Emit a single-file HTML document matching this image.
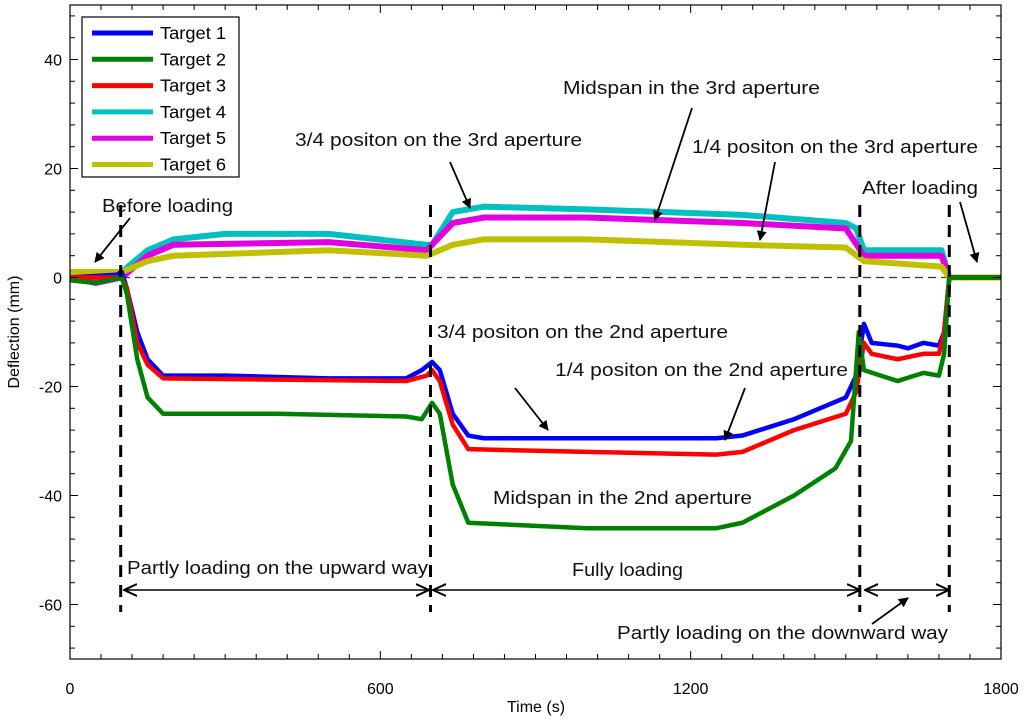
<!DOCTYPE html>
<html><head><meta charset="utf-8"><style>
body{margin:0;background:#fff}
svg text{font-family:"Liberation Sans",sans-serif}
</style></head><body>
<svg id="chart" width="1024" height="718" viewBox="0 0 1024 718" xmlns="http://www.w3.org/2000/svg">
<g id="series"></g>
<g id="axes"></g>
<g id="ann" font-size="18" fill="#111"></g>
</svg>
<script>
const xTicks=[0,600,1200,1800];
const yTicks=[40,20,0,-20,-40,-60];
const seriesNames=["Target 1","Target 2","Target 3","Target 4","Target 5","Target 6"];
const seriesColors=["#0000ff","#008000","#ff0000","#00c0c0","#e000e0","#c0c000"];
const t1=[[0,0],[90,0.5],[100,1],[110,-2],[130,-10],[150,-15],[180,-18],[300,-18],[500,-18.5],[650,-18.5],[680,-17],[700,-15.5],[715,-17],[740,-25],[770,-29],[800,-29.5],[1000,-29.5],[1250,-29.5],[1300,-29],[1400,-26],[1500,-22],[1520,-18],[1535,-8.5],[1550,-12],[1600,-12.5],[1620,-13],[1650,-12],[1680,-12.5],[1690,-10],[1700,0],[1740,0],[1800,0]];
const t2=[[0,-0.5],[50,-1],[100,0],[110,-3],[130,-15],[150,-22],[180,-25],[400,-25],[650,-25.5],[680,-26],[700,-23],[715,-25],[740,-38],[770,-45],[1000,-46],[1250,-46],[1300,-45],[1400,-40],[1480,-35],[1510,-30],[1525,-10],[1535,-17],[1600,-19],[1650,-17.5],[1680,-18],[1690,-14],[1700,0],[1800,0]];
const t3=[[0,0],[100,0],[110,-2],[130,-12],[150,-16],[180,-18.5],[650,-19],[690,-18],[700,-17],[715,-19],[740,-27],[770,-31.5],[1000,-32],[1250,-32.5],[1300,-32],[1400,-28],[1500,-25],[1520,-21],[1535,-12],[1550,-14],[1600,-15],[1650,-14],[1680,-14],[1690,-10],[1700,0],[1800,0]];
const t4=[[0,0],[100,1],[150,5],[200,7],[300,8],[500,8],[690,6],[700,6],[740,12],[800,13],[1000,12.5],[1300,11.5],[1500,10],[1520,9],[1535,5],[1600,5],[1685,5],[1700,0],[1800,0]];
const t5=[[0,0],[50,-1],[100,0],[150,4],[200,6],[500,6.5],[690,5],[740,10],[800,11],[1000,11],[1300,10],[1500,9],[1535,4],[1685,4],[1700,0],[1800,0]];
const t6=[[0,1],[100,1],[150,3],[200,4],[500,5],[690,4],[740,6],[800,7],[1000,7],[1300,6],[1500,5.5],[1535,3],[1685,2],[1700,0],[1800,0]];
const allSeries=[t1,t2,t3,t4,t5,t6];
const X0=70,X1=1001,Y0=5,Y1=659,xmin=0,xmax=1800,ymin=-70,ymax=50;
const sx=v=>X0+(v-xmin)/(xmax-xmin)*(X1-X0);
const sy=v=>Y1-(v-ymin)/(ymax-ymin)*(Y1-Y0);
const NS="http://www.w3.org/2000/svg";
function mk(tag,attrs,parent){const e=document.createElementNS(NS,tag);for(const k in attrs)e.setAttribute(k,attrs[k]);parent.appendChild(e);return e;}
const S=document.getElementById('series'),A=document.getElementById('axes'),N=document.getElementById('ann');
let z=mk('line',{x1:X0,x2:X1,y1:sy(0),y2:sy(0),stroke:'#333','stroke-width':1.2,'stroke-dasharray':'8,5'},S);


const order=[3,4,5,0,2,1];
order.forEach(i=>{
 const p=mk('polyline',{points:allSeries[i].map(d=>sx(d[0])+','+sy(d[1])).join(' '),fill:'none',stroke:seriesColors[i],'stroke-width':i>=3?6:4.5,'stroke-linejoin':'round'},S);
 
 
});
const phaseTimes=[98,697,1527,1700];
phaseTimes.forEach((t,i)=>{
 const l=mk('line',{x1:sx(t),x2:sx(t),y1:205,y2:612,stroke:'#000','stroke-width':3,'stroke-dasharray':'12,8'},S);
 
 
});
let fr=mk('rect',{x:X0,y:Y0,width:X1-X0,height:Y1-Y0,fill:'none',stroke:'#000','stroke-width':1.2},A);


for(let t=0;t<=1800;t+=60){const x=sx(t),len=t%600===0?8:5;mk('line',{x1:x,x2:x,y1:Y1,y2:Y1-len,stroke:'#000'},A);mk('line',{x1:x,x2:x,y1:Y0,y2:Y0+len,stroke:'#000'},A);}
for(let v=-68;v<=48;v+=4){const y=sy(v),len=v%20===0?8:5;mk('line',{x1:X0,x2:X0+len,y1:y,y2:y,stroke:'#000'},A);mk('line',{x1:X1,x2:X1-len,y1:y,y2:y,stroke:'#000'},A);}
xTicks.forEach(t=>{const e=mk('text',{x:sx(t),y:694,'text-anchor':'middle','font-size':16},A);e.textContent=t;
 
 });
yTicks.forEach(v=>{const e=mk('text',{x:62,y:sy(v)+6,'text-anchor':'end','font-size':16},A);e.textContent=v;
 
 });
let xt=mk('text',{x:536,y:712,'text-anchor':'middle','font-size':16},A);xt.textContent='Time (s)';


let yt=mk('text',{x:0,y:0,'text-anchor':'middle','font-size':16,transform:'translate(19,332) rotate(-90)'},A);yt.textContent='Deflection (mm)';


let lg=mk('rect',{x:82,y:17,width:157,height:160,fill:'#fff',stroke:'#000','stroke-width':1.2},A);


seriesNames.forEach((n,i)=>{const y=33+i*26.3;
 const l=mk('line',{x1:92,x2:153,y1:y,y2:y,stroke:seriesColors[i],'stroke-width':5},A);
 
 
 const e=mk('text',{x:160,y:y+6,'font-size':17.5,textLength:66,lengthAdjust:'spacingAndGlyphs'},A);e.textContent=n;
 
 });
mk('defs',{},N).innerHTML='<marker id="ah" markerWidth="10" markerHeight="10" refX="9" refY="5" orient="auto" markerUnits="userSpaceOnUse"><path d="M0,0 L10,5 L0,10 z" fill="#000"/></marker><marker id="oa" markerWidth="14" markerHeight="14" refX="13" refY="7" orient="auto" markerUnits="userSpaceOnUse"><path d="M0,1 L13,7 L0,13" fill="none" stroke="#000" stroke-width="2"/></marker><marker id="oas" markerWidth="14" markerHeight="14" refX="1" refY="7" orient="auto" markerUnits="userSpaceOnUse"><path d="M14,1 L1,7 L14,13" fill="none" stroke="#000" stroke-width="2"/></marker>';
const labels=[["Before loading",102,212,131],["3/4 positon on the 3rd aperture",295,146,287],["Midspan in the 3rd aperture",563,94,257],["1/4 positon on the 3rd aperture",692,153,286],["After loading",862,194,116],["3/4 positon on the 2nd aperture",437,338,291],["1/4 positon on the 2nd aperture",555,376,293],["Midspan in the 2nd aperture",493,504,259],["Partly loading on the upward way",127,574,301],["Fully loading",572,576,111],["Partly loading on the downward way",617,639,331]];
labels.forEach(l=>{const e=mk('text',{x:l[1],y:l[2],'font-size':18,textLength:l[3],lengthAdjust:'spacingAndGlyphs'},N);e.textContent=l[0];
 
 });
const arrows=[[130,218,95,262],[450,162,470,208],[692,108,655,220],[775,162,760,240],[960,202,977,262],[515,388,548,430],[745,388,725,440],[872,624,908,598]];
arrows.forEach(a=>{const e=mk('line',{x1:a[0],y1:a[1],x2:a[2],y2:a[3],stroke:'#000','stroke-width':1.8,'marker-end':'url(#ah)'},N);
 
 });
const spans=[[124,429],[433,860],[865,949]];
spans.forEach(s=>{const e=mk('line',{x1:s[0],y1:590,x2:s[1],y2:590,stroke:'#000','stroke-width':1.5,'marker-end':'url(#oa)','marker-start':'url(#oas)'},N);
 
 });
</script>
</body></html>
